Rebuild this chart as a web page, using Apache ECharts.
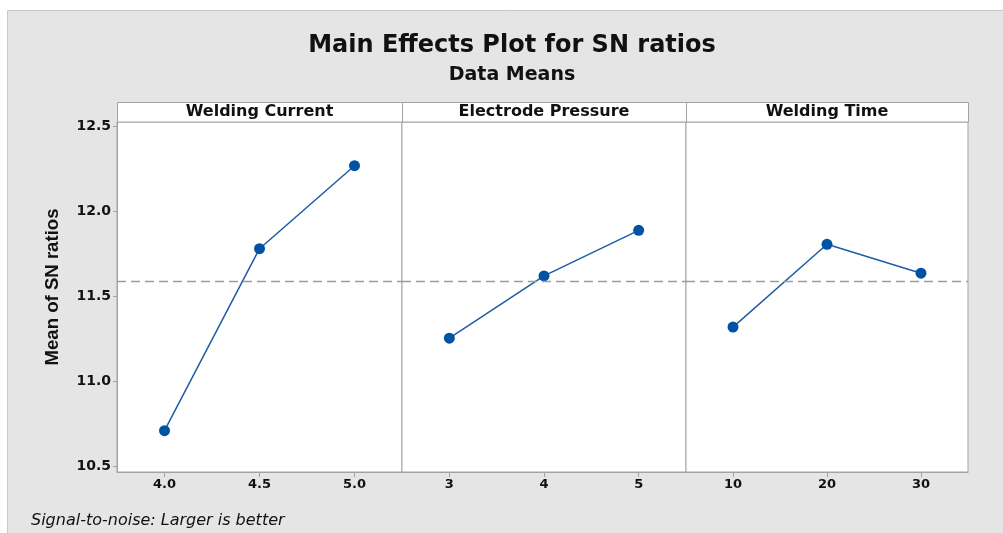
<!DOCTYPE html>
<html>
<head>
<meta charset="utf-8">
<title>Main Effects Plot for SN ratios</title>
<script src="https://cdn.jsdelivr.net/npm/echarts@6/dist/echarts.min.js"></script>
<style>
  html, body { margin: 0; padding: 0; background: #fff; }
  #main { width: 1003px; height: 533px; }
</style>
</head>
<body>
<div id="main"></div>
<script>
// factors and their levels
var factors = ['Welding Current', 'Electrode Pressure', 'Welding Time'];
var levelsCurrent = ['4.0', '4.5', '5.0'];
var levelsPressure = ['3', '4', '5'];
var levelsTime = ['10', '20', '30'];
// mean SN ratio per level
var snCurrent = [10.712, 11.782, 12.270];
var snPressure = [11.256, 11.622, 11.890];
var snTime = [11.321, 11.808, 11.638];
var grandMean = 11.589;
var yTicks = [10.5, 11.0, 11.5, 12.0, 12.5];

var chart = echarts.init(document.getElementById('main'));

var panelLeft = [117, 402, 686];
var panelWidth = [285, 284, 282];
var levels = [levelsCurrent, levelsPressure, levelsTime];
var values = [snCurrent, snPressure, snTime];
var font = 'DejaVu Sans';

// squeeze the y axis name like the condensed original
var yName = 'Mean of SN ratios';
var yNameFont = 'bold 19px Liberation Sans';
var ctx = document.createElement('canvas').getContext('2d');
ctx.font = yNameFont;
var yNameScale = 157 / ctx.measureText(yName).width;

var grids = [], xAxes = [], yAxes = [], series = [], graphics = [];

// gray outer frame
graphics.push({
  type: 'rect', z: -10,
  shape: { x: 7.5, y: 10.5, width: 1010, height: 540 },
  style: { fill: '#e5e5e5', stroke: '#c9c9c9', lineWidth: 1 }
});

for (var i = 0; i < 3; i++) {
  grids.push({
    left: panelLeft[i], top: 122, width: panelWidth[i], height: 350,
    show: true, backgroundColor: '#fff', borderColor: '#a3a3a3', borderWidth: 1
  });
  xAxes.push({
    type: 'category', gridIndex: i, data: levels[i], boundaryGap: true,
    axisLine: { show: true, lineStyle: { color: '#a3a3a3' } },
    axisTick: { show: true, alignWithLabel: true, length: 5, lineStyle: { color: '#a3a3a3' } },
    axisLabel: { color: '#111', fontFamily: font, fontWeight: 'bold', fontSize: 13, margin: 6 },
    splitLine: { show: false }
  });
  yAxes.push({
    type: 'value', gridIndex: i, min: 10.469, max: 12.527,
    axisLine: { show: i === 0, lineStyle: { color: '#a3a3a3' } },
    axisTick: { show: i === 0, customValues: yTicks, length: 4, lineStyle: { color: '#a3a3a3' } },
    axisLabel: {
      show: i === 0, customValues: yTicks, color: '#111', fontFamily: font, fontWeight: 'bold',
      fontSize: 14, margin: 6,
      formatter: function (v) { return v.toFixed(1); }
    },
    splitLine: { show: false }
  });
  series.push({
    type: 'line', xAxisIndex: i, yAxisIndex: i, data: values[i],
    symbol: 'circle', symbolSize: 11,
    lineStyle: { color: '#1e5ca8', width: 1.5 },
    itemStyle: { color: '#0052a3' },
    markLine: {
      silent: true, symbol: 'none', label: { show: false },
      lineStyle: { color: '#9c9c9c', type: [9, 5], width: 1.4 },
      data: [{ yAxis: grandMean }]
    }
  });
  // panel header strip
  graphics.push({
    type: 'rect',
    shape: { x: panelLeft[i] + 0.5, y: 102.5, width: panelWidth[i], height: 19.5 },
    style: { fill: '#fff', stroke: '#a3a3a3', lineWidth: 1 }
  });
  graphics.push({
    type: 'text', x: panelLeft[i] + panelWidth[i] / 2, y: 112,
    style: {
      text: factors[i], fill: '#111', font: 'bold 16px ' + font,
      textAlign: 'center', textVerticalAlign: 'middle'
    }
  });
}

graphics.push({
  type: 'text', x: 512, y: 46,
  style: { text: 'Main Effects Plot for SN ratios', fill: '#111', font: 'bold 24px ' + font,
    textAlign: 'center', textVerticalAlign: 'middle' }
});
graphics.push({
  type: 'text', x: 512, y: 75,
  style: { text: 'Data Means', fill: '#111', font: 'bold 19px ' + font,
    textAlign: 'center', textVerticalAlign: 'middle' }
});
graphics.push({
  type: 'text', x: 53, y: 287, rotation: Math.PI / 2, scaleX: yNameScale,
  style: { text: yName, fill: '#111', font: yNameFont,
    textAlign: 'center', textVerticalAlign: 'middle' }
});
graphics.push({
  type: 'text', x: 31, y: 521,
  style: { text: 'Signal-to-noise: Larger is better', fill: '#111', font: 'italic 16px ' + font,
    textVerticalAlign: 'middle' }
});

chart.setOption({
  backgroundColor: '#fff',
  animation: false,
  grid: grids,
  xAxis: xAxes,
  yAxis: yAxes,
  series: series,
  graphic: graphics
});
</script>
</body>
</html>
